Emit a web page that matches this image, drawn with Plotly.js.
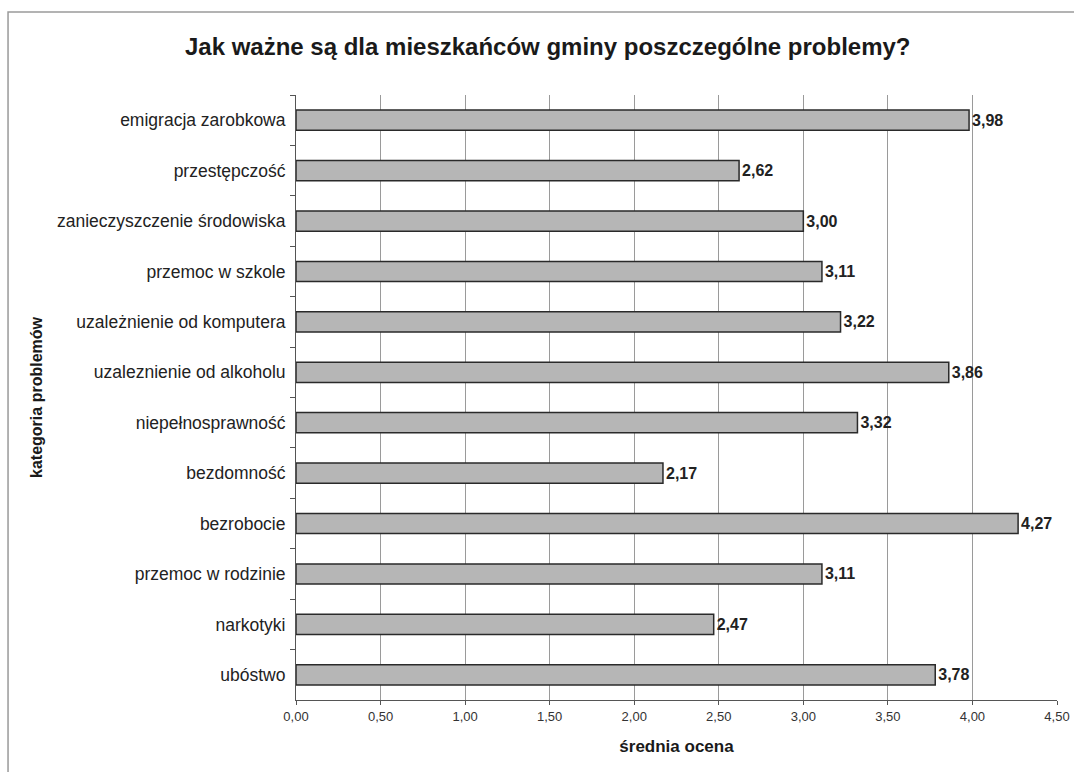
<!DOCTYPE html>
<html>
<head>
<meta charset="utf-8">
<script src="https://cdn.plot.ly/plotly-3.0.1.min.js"></script>
<style>html,body{margin:0;padding:0;background:#fff;}#chart{width:1074px;height:772px;}</style>
</head>
<body>
<div id="chart"></div>
<script>
// Categories, top to bottom as in the reference
const categories = [
  "emigracja zarobkowa",
  "przestępczość",
  "zanieczyszczenie środowiska",
  "przemoc w szkole",
  "uzależnienie od komputera",
  "uzaleznienie od alkoholu",
  "niepełnosprawność",
  "bezdomność",
  "bezrobocie",
  "przemoc w rodzinie",
  "narkotyki",
  "ubóstwo"
];
const values = [3.98, 2.62, 3.00, 3.11, 3.22, 3.86, 3.32, 2.17, 4.27, 3.11, 2.47, 3.78];
const xTicks = [0, 0.5, 1, 1.5, 2, 2.5, 3, 3.5, 4, 4.5];

const chartTitle = "Jak ważne są dla mieszkańców gminy poszczególne problemy?";
const xTitle = "średnia ocena";
const yTitle = "kategoria problemów";

const FONT = "Liberation Sans, Arial, sans-serif";

const trace = {
  type: "bar",
  orientation: "h",
  y: categories,
  x: values,
  marker: { color: "#b6b6b6", line: { color: "#2a2a2a", width: 1.5 } },
  texttemplate: "%{x:.2f}",
  textposition: "outside",
  cliponaxis: false,
  textfont: { family: FONT, size: 16, color: "#222", weight: "bold" },
  outsidetextfont: { family: FONT, size: 16, color: "#222", weight: "bold" },
  hoverinfo: "none"
};

const layout = {
  width: 1074,
  height: 772,
  paper_bgcolor: "#ffffff",
  plot_bgcolor: "#ffffff",
  separators: ", ",
  margin: { l: 296, r: 17, t: 95, b: 72 },
  bargap: 0.6,
  showlegend: false,
  font: { family: FONT, color: "#222" },
  title: {
    text: chartTitle,
    x: 0.51, xanchor: "center",
    y: 0.939, yanchor: "middle",
    font: { family: FONT, size: 24, color: "#1a1a1a", weight: "bold" }
  },
  xaxis: {
    range: [0, 4.5],
    tickvals: xTicks,
    tickformat: ".2f",
    showgrid: true,
    gridcolor: "#9a9a9a",
    gridwidth: 1,
    zeroline: false,
    showline: true,
    linecolor: "#555",
    linewidth: 1,
    ticks: "outside",
    ticklen: 4,
    tickcolor: "#555",
    tickfont: { family: FONT, size: 13, color: "#333" },
    title: { text: xTitle, standoff: 17, font: { family: FONT, size: 17, color: "#1a1a1a", weight: "bold" } }
  },
  yaxis: {
    type: "category",
    autorange: "reversed",
    showgrid: false,
    zeroline: false,
    showline: true,
    linecolor: "#555",
    linewidth: 1,
    ticks: "outside",
    tickson: "boundaries",
    ticklen: 5,
    ticklabelstandoff: 6,
    tickcolor: "#555",
    tickfont: { family: FONT, size: 17.5, color: "#222" },
    title: { text: yTitle, standoff: 10, font: { family: FONT, size: 16, color: "#1a1a1a", weight: "bold" } }
  },
  shapes: [
    {
      type: "rect", xref: "paper", yref: "paper",
      x0: -0.3784, x1: 1.3, y0: -0.3, y1: 1.1372,
      line: { color: "#9a9a9a", width: 1.5 },
      fillcolor: "rgba(0,0,0,0)",
      layer: "below"
    }
  ]
};

Plotly.newPlot("chart", [trace], layout, { displayModeBar: false, staticPlot: true });
</script>
</body>
</html>
